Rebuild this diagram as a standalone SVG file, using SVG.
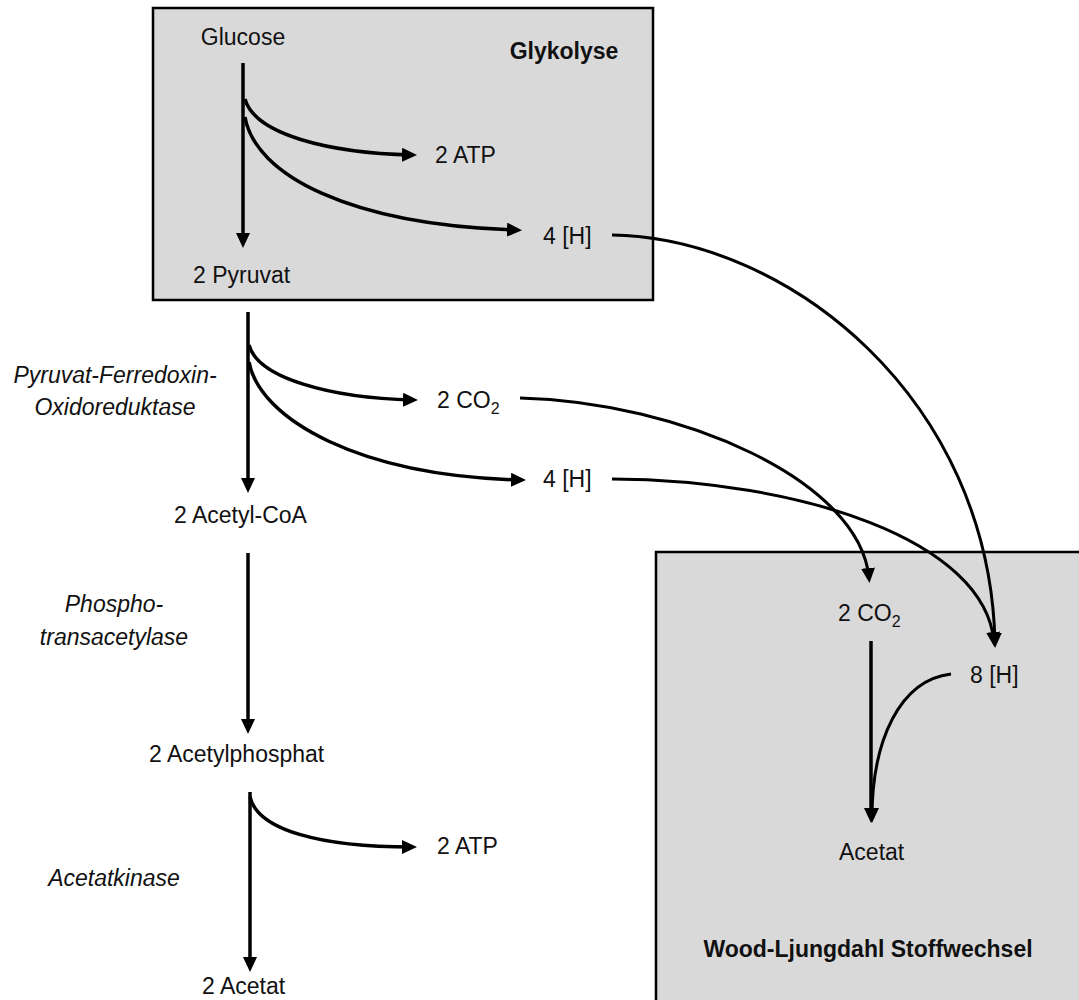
<svg xmlns="http://www.w3.org/2000/svg" width="1079" height="1000" viewBox="0 0 1079 1000">
<defs>
<marker id="ah" markerUnits="userSpaceOnUse" markerWidth="18" markerHeight="18" refX="10" refY="7" orient="auto">
<path d="M0,0 L15,7 L0,14 z" fill="#000"/>
</marker>
<style>
text{font-family:"Liberation Sans",Arial,sans-serif;font-size:23px;fill:#111}
.b{font-weight:bold}
.i{font-style:italic}
.m{text-anchor:middle}
.box{fill:#d9d9d9;stroke:#000;stroke-width:2.5}
.c{fill:none;stroke:#000;stroke-width:3.5;marker-end:url(#ah)}
.c2{fill:none;stroke:#000;stroke-width:3;marker-end:url(#ah)}
</style>
</defs>
<rect width="1079" height="1000" fill="#fff"/>
<g id="glykolyse-box"><rect class="box" x="153" y="8" width="500" height="292"/><text class="b m" x="564" y="59">Glykolyse</text></g>
<g id="wl-box"><rect class="box" x="656" y="552" width="430" height="460"/><text class="b m" x="868" y="957">Wood-Ljungdahl Stoffwechsel</text></g>
<g id="glucose"><text class="m" x="243" y="45">Glucose</text></g>
<g id="atp1"><text x="435" y="163">2 ATP</text></g>
<g id="h1"><text x="543" y="244">4 [H]</text></g>
<g id="pyruvat"><text x="193" y="283">2 Pyruvat</text></g>
<g id="pfor"><text class="i m" x="115" y="383">Pyruvat-Ferredoxin-</text><text class="i m" x="115" y="415">Oxidoreduktase</text></g>
<g id="co2a"><text x="437" y="408">2 CO<tspan font-size="16" dy="6">2</tspan></text></g>
<g id="h2"><text x="543" y="487">4 [H]</text></g>
<g id="acetylcoa"><text x="174" y="523">2 Acetyl-CoA</text></g>
<g id="pta"><text class="i m" x="114" y="612">Phospho-</text><text class="i m" x="114" y="645">transacetylase</text></g>
<g id="acetylphosphat"><text x="149" y="762">2 Acetylphosphat</text></g>
<g id="atp2"><text x="437" y="854">2 ATP</text></g>
<g id="ack"><text class="i m" x="114" y="886">Acetatkinase</text></g>
<g id="acetat2"><text x="202" y="994">2 Acetat</text></g>
<g id="co2b"><text x="838" y="621">2 CO<tspan font-size="16" dy="6">2</tspan></text></g>
<g id="h8"><text x="970" y="683">8 [H]</text></g>
<g id="acetat"><text x="839" y="860">Acetat</text></g>
<g id="connectors">
<path class="c" d="M243,63 V243"/>
<path class="c" d="M245,99 C255,135 330,153 412,155"/>
<path class="c" d="M245,117 C255,175 350,225 517,230"/>
<path class="c" d="M248,312 V488"/>
<path class="c" d="M249,345 C258,378 330,398 413,400"/>
<path class="c" d="M249,362 C260,420 360,476 521,480"/>
<path class="c" d="M248,553 V729"/>
<path class="c" d="M250,792 V967"/>
<path class="c" d="M250,797 C258,830 320,847 412,847"/>
<path class="c2" d="M612,235 C790,238 990,400 995,643"/>
<path class="c2" d="M520,398 C680,402 860,480 869,578"/>
<path class="c2" d="M612,479 C800,480 985,540 994,642"/>
<path class="c" d="M871,641 V818"/>
<path class="c2" d="M951,674 C900,680 872,740 872,818"/>
</g>
</svg>
